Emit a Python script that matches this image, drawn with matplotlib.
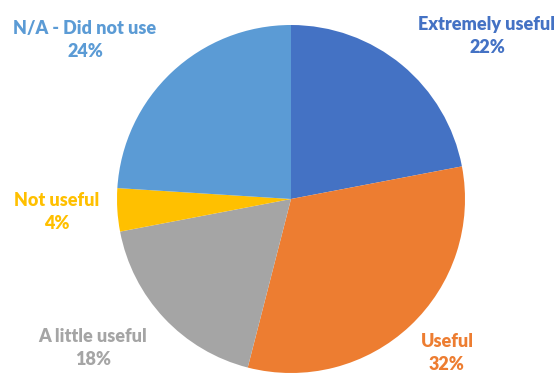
import matplotlib.pyplot as plt

labels = ['Extremely useful', 'Useful', 'A little useful', 'Not useful', 'N/A - Did not use']
values = [22, 32, 18, 4, 24]
colors = ['#4472C4', '#ED7D31', '#A5A5A5', '#FFC000', '#5B9BD5']

# label positions in pixel coords (x, y from top)
label_pos = [(487, 36), (447, 353), (93, 348), (57, 212), (85, 40)]

W, H = 557, 377
fig = plt.figure(figsize=(W / 100, H / 100), dpi=100)
ax = fig.add_axes([0, 0, 1, 1])

ax.pie(values, colors=colors, startangle=90, counterclock=False,
       center=(291, H - 199), radius=174, frame=True)
ax.set_xlim(0, W)
ax.set_ylim(0, H)
ax.set_aspect('equal')
ax.axis('off')

for lab, v, c, (x, y) in zip(labels, values, colors, label_pos):
    ax.text(x, H - y, f'{lab}\n{v}%', color=c, ha='center', va='center',
            fontsize=13, fontweight='heavy', family='Lato', linespacing=1.4)

fig.savefig('out.png', dpi=100)
